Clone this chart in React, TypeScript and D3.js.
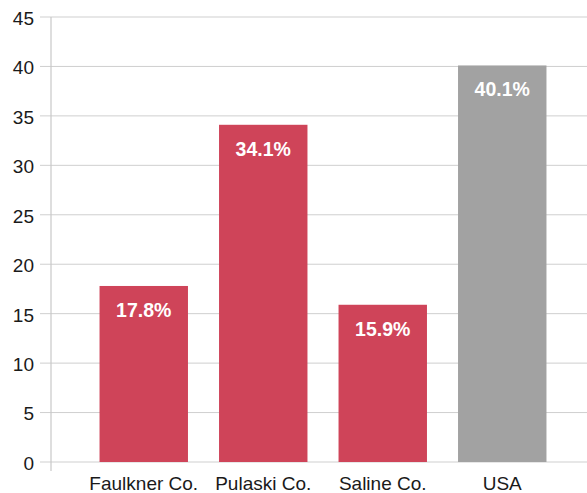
import React from "react";
import * as d3 from "d3";

const categories = ["Faulkner Co.", "Pulaski Co.", "Saline Co.", "USA"];
const values = [17.8, 34.1, 15.9, 40.1];
const labels = ["17.8%", "34.1%", "15.9%", "40.1%"];
const colors = ["#cf4459", "#cf4459", "#cf4459", "#a2a2a2"];
const yTicks = [0, 5, 10, 15, 20, 25, 30, 35, 40, 45];

export default function App() {
  const W = 587, H = 493;
  const y = d3.scaleLinear().domain([0, 45]).range([462, 17]);
  const x = d3.scaleBand<string>().domain(categories).range([84, 562]).paddingInner(0.26).paddingOuter(0.13);
  const axisX = 51;
  const font = "Liberation Sans, Arial, Helvetica, sans-serif";
  return (
    <svg width={W} height={H} style={{ position: "absolute", left: 0, top: 0, background: "#fff" }}>
      {yTicks.map((t) => (
        <g key={t}>
          <line x1={40} x2={W} y1={y(t)} y2={y(t)} stroke="#cfcfcf" strokeWidth={1} />
          <text x={34} y={y(t) + 1} dy="0.36em" textAnchor="end" fontFamily={font} fontSize={19} fill="#1a1a1a">{t}</text>
        </g>
      ))}
      <line x1={axisX} x2={axisX} y1={17} y2={471} stroke="#c8c8c8" strokeWidth={1.2} />
      {categories.map((c, i) => {
        const bx = x(c)!;
        const bw = x.bandwidth();
        return (
          <g key={c}>
            <rect x={bx} y={y(values[i])} width={bw} height={y(0) - y(values[i])} fill={colors[i]} />
            <text x={bx + bw / 2} y={y(values[i]) + 24} dy="0.36em" textAnchor="middle" fontFamily={font} fontSize={19.5} fontWeight="bold" fill="#fff">{labels[i]}</text>
            <text x={bx + bw / 2} y={490} textAnchor="middle" fontFamily={font} fontSize={19} fill="#1a1a1a">{c}</text>
          </g>
        );
      })}
    </svg>
  );
}
